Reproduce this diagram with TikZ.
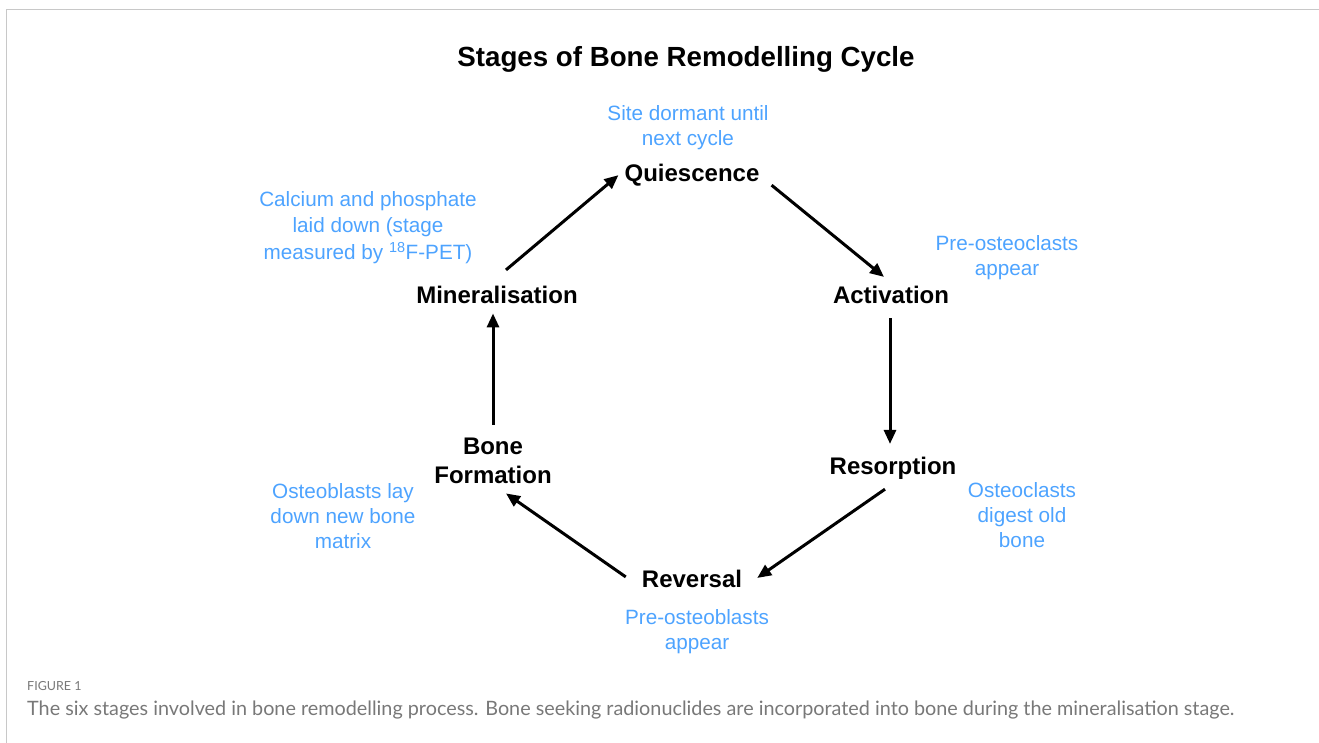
\documentclass[tikz,border=0pt]{standalone}
\usepackage{fontspec}
\setmainfont{Liberation Sans}
\newfontfamily\capfont{Lato}
\usetikzlibrary{arrows.meta}

\definecolor{notecol}{RGB}{77,163,255}
\definecolor{capgray}{RGB}{120,120,120}
\definecolor{framegray}{RGB}{200,200,200}

\begin{document}
\begin{tikzpicture}[
  x=1pt,y=-1pt,
  >=Latex,
  stage/.style={font=\bfseries\fontsize{24}{29}\selectfont,inner sep=0pt,align=center,anchor=base},
  note/.style={text=notecol,font=\fontsize{20.7}{25}\selectfont,inner sep=0pt,align=center,anchor=base},
  flow/.style={-{Triangle[length=14pt,width=12pt]},line width=3pt},
  captext/.style={text=capgray,inner sep=0pt,anchor=base west}
]
  \useasboundingbox (0,0) rectangle (1319,743);
  \draw[framegray,line width=1.5pt] (6.5,743) |- (1319,9.5);

  \node[font=\bfseries\fontsize{27.7}{33}\selectfont,anchor=base] (title) at (686,67)
    {Stages of Bone Remodelling Cycle};

  % stages of the cycle
  \node[stage] (qui) at (692,181.5) {Quiescence};
  \node[stage] (act) at (891,303.5) {Activation};
  \node[stage] (res) at (893,474.5) {Resorption};
  \node[stage] (rev) at (692,587.5) {Reversal};
  \node[stage] (bf)  at (493,483.5) {Bone\\Formation};
  \node[stage] (min) at (497,303.5) {Mineralisation};

  % what happens at each stage
  \node[note] (quinote) at (688,146) {Site dormant until\\next cycle};
  \node[note] (actnote) at (1007,276) {Pre-osteoclasts\\appear};
  \node[note] (resnote) at (1022,547) {Osteoclasts\\digest old\\bone};
  \node[note] (revnote) at (697,649) {Pre-osteoblasts\\appear};
  \node[note] (bfnote)  at (343,548) {Osteoblasts lay\\down new bone\\matrix};
  \node[note] (minnote) at (368,260)
    {Calcium and phosphate\\laid down (stage\\[3pt]measured by \textsuperscript{18}F-PET)};

  \draw[flow] ([shift={(9,-16)}]min.north) -- ([shift={(-6,0)}]qui.west);
  \draw[flow] ([shift={(12,10)}]qui.east) -- ([shift={(-7,-9)}]act.north);
  \draw[flow] ([shift={(-1,14.5)}]act.south) -- ([shift={(-3,-13)}]res.north);
  \draw[flow] ([shift={(-8,9.5)}]res.south) -- ([shift={(15,-1)}]rev.east);
  \draw[flow] ([shift={(-16,-2)}]rev.west) -- ([shift={(13,9.5)}]bf.south);
  \draw[flow] ([shift={(0,-13)}]bf.north) -- ([shift={(-4,9.5)}]min.south);

  % caption
  \node[captext,font=\capfont\fontsize{12.5}{15}\selectfont] (figno) at (27,690) {FIGURE 1};
  \node[captext,font=\capfont\fontsize{19.8}{23}\selectfont] (caption) at (27,715)
    {The six stages involved in bone remodelling process. Bone seeking radionuclides are incorporated into bone during the mineralisation stage.};
\end{tikzpicture}
\end{document}
